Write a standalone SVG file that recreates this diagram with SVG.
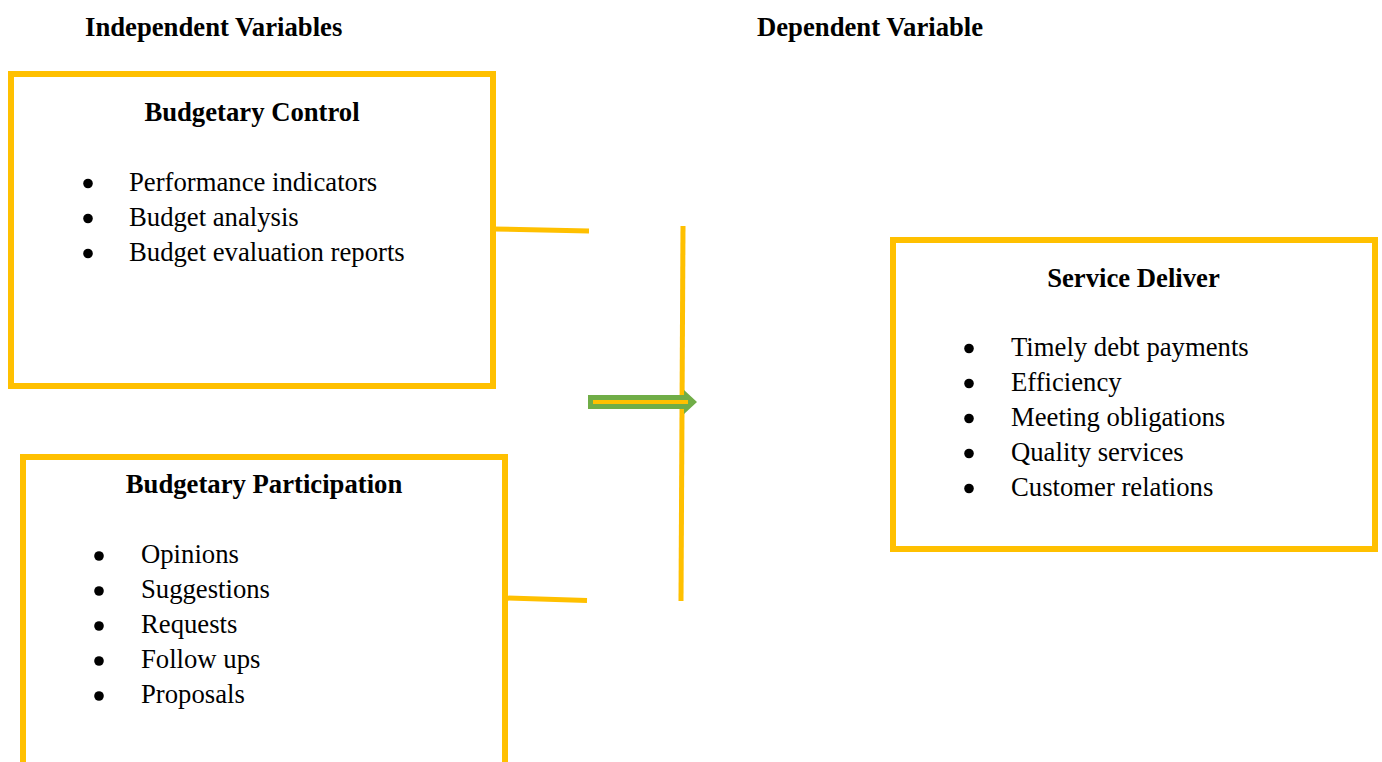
<svg xmlns="http://www.w3.org/2000/svg" width="1382" height="762" viewBox="0 0 1382 762">
<style>
.box{fill:none;stroke:#FFC000;stroke-width:6}
.ln{stroke:#FFC000;stroke-width:5;fill:none}
.h{font-family:"Liberation Serif","Times New Roman",serif;font-weight:bold;font-size:26.7px;fill:#000}
.t{font-family:"Liberation Serif","Times New Roman",serif;font-size:26.7px;fill:#000}
.b{fill:#000}
</style>
<rect width="1382" height="762" fill="#fff"/>
<text class="h" x="85" y="36">Independent Variables</text>
<text class="h" x="757" y="36">Dependent Variable</text>
<g id="budgetary-control">
<rect class="box" x="11" y="74" width="482" height="312"/>
<text class="h" x="252" y="121" text-anchor="middle">Budgetary Control</text>
<circle class="b" cx="88" cy="183.5" r="4.8"/>
<circle class="b" cx="88" cy="218.5" r="4.8"/>
<circle class="b" cx="88" cy="253.5" r="4.8"/>
<text class="t" x="129" y="191">Performance indicators</text>
<text class="t" x="129" y="226">Budget analysis</text>
<text class="t" x="129" y="261">Budget evaluation reports</text>
</g>
<g id="budgetary-participation">
<rect class="box" x="23" y="457" width="482" height="330"/>
<text class="h" x="264" y="493" text-anchor="middle">Budgetary Participation</text>
<circle class="b" cx="99" cy="556" r="4.8"/>
<circle class="b" cx="99" cy="591" r="4.8"/>
<circle class="b" cx="99" cy="626" r="4.8"/>
<circle class="b" cx="99" cy="661" r="4.8"/>
<circle class="b" cx="99" cy="696" r="4.8"/>
<text class="t" x="141" y="563">Opinions</text>
<text class="t" x="141" y="598">Suggestions</text>
<text class="t" x="141" y="633">Requests</text>
<text class="t" x="141" y="668">Follow ups</text>
<text class="t" x="141" y="703">Proposals</text>
</g>
<g id="service-deliver">
<rect class="box" x="893" y="240" width="482" height="309"/>
<text class="h" x="1133.5" y="287" text-anchor="middle">Service Deliver</text>
<circle class="b" cx="969" cy="348.5" r="4.8"/>
<circle class="b" cx="969" cy="383.5" r="4.8"/>
<circle class="b" cx="969" cy="418.5" r="4.8"/>
<circle class="b" cx="969" cy="453.5" r="4.8"/>
<circle class="b" cx="969" cy="488.5" r="4.8"/>
<text class="t" x="1011" y="356">Timely debt payments</text>
<text class="t" x="1011" y="391">Efficiency</text>
<text class="t" x="1011" y="426">Meeting obligations</text>
<text class="t" x="1011" y="461">Quality services</text>
<text class="t" x="1011" y="496">Customer relations</text>
</g>
<g id="connectors">
<line class="ln" x1="493" y1="229" x2="589" y2="231"/>
<line class="ln" x1="505" y1="598" x2="587" y2="600.5"/>
<line class="ln" x1="683" y1="226" x2="681" y2="601"/>
<polygon points="588,395 684,395 684,390 697,402 684,414 684,409 588,409" fill="#70AD47"/>
<line x1="593" y1="402" x2="688" y2="402" stroke="#FFC000" stroke-width="4"/>
</g>
</svg>
